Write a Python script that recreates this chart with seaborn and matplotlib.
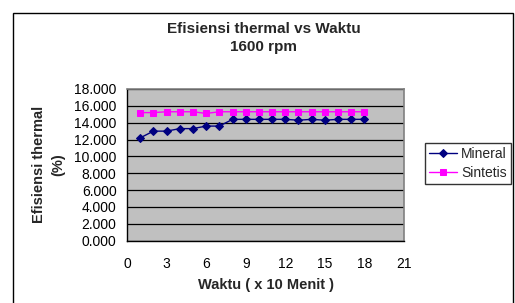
import matplotlib
matplotlib.use("Agg")
import matplotlib.pyplot as plt
from matplotlib.patches import Rectangle
from matplotlib.ticker import FormatStrFormatter
import numpy as np
import pandas as pd
import seaborn as sns

# data
waktu = list(range(1, 19))
mineral = [12.2, 13.0, 13.0, 13.3, 13.3, 13.6, 13.6, 14.4, 14.4,
           14.4, 14.4, 14.4, 14.3, 14.4, 14.3, 14.4, 14.4, 14.4]
sintetis = [15.2, 15.2, 15.3, 15.3, 15.3, 15.1, 15.3, 15.3, 15.3,
            15.3, 15.3, 15.3, 15.3, 15.3, 15.3, 15.3, 15.3, 15.3]
x_ticks = list(range(0, 22, 3))
y_ticks = list(range(0, 19, 2))

sns.set_style("white")
plt.rcParams['font.family'] = ['Liberation Sans', 'DejaVu Sans']

fig = plt.figure(figsize=(5.15, 3.03), dpi=100)
ax = fig.add_axes([127 / 515, 1 - 240.7 / 303, 277 / 515, 151.7 / 303])
ax.set_facecolor("#C0C0C0")

sns.lineplot(x=waktu, y=mineral, ax=ax, color="#000080", marker="D",
             markersize=4.5, markeredgecolor="#000080", linewidth=1,
             label="Mineral")
sns.lineplot(x=waktu, y=sintetis, ax=ax, color="#FF00FF", marker="s",
             markersize=5, markeredgecolor="#FF00FF", linewidth=1,
             label="Sintetis")

ax.set_xlim(0, 21)
ax.set_ylim(0, 18)
ax.set_xticks(x_ticks)
ax.set_yticks(y_ticks)
ax.yaxis.set_major_formatter(FormatStrFormatter("%.3f"))
ax.grid(axis="y", color="black", linewidth=0.9)
ax.grid(axis="x", visible=False)
ax.set_axisbelow(True)

for side in ["top", "right"]:
    ax.spines[side].set_color("#808080")
    ax.spines[side].set_linewidth(1.2)
for side in ["left", "bottom"]:
    ax.spines[side].set_color("black")
    ax.spines[side].set_linewidth(1)

ax.tick_params(axis="both", direction="out", length=3.5, width=0.9,
               colors="black", labelsize=10)
ax.tick_params(axis="x", pad=8)
ax.tick_params(axis="y", pad=4)

ax.set_xlabel("Waktu ( x 10 Menit )", fontsize=10.5, fontweight="bold", labelpad=5)
ax.set_ylabel("Efisiensi thermal\n(%)", fontsize=10.5, fontweight="bold",
              labelpad=6, linespacing=1.5)

fig.text(264 / 515, 1 - 38 / 303, "Efisiensi thermal vs Waktu\n1600 rpm",
         ha="center", va="center", fontsize=11, fontweight="bold",
         linespacing=1.3)

leg = ax.legend(loc="upper left", bbox_to_anchor=(425 / 515, 1 - 143 / 303),
                bbox_transform=fig.transFigure, frameon=True, fancybox=False,
                fontsize=10, handlelength=2.0, handletextpad=0.3,
                borderpad=0.3, labelspacing=0.35, borderaxespad=0)
leg.get_frame().set_edgecolor("black")
leg.get_frame().set_linewidth(1)
leg.get_frame().set_facecolor("white")

# outer chart frame (open at the bottom)
fig.patches.append(Rectangle((13 / 515, -0.1), 500 / 515, 1 - 13 / 303 + 0.1,
                             transform=fig.transFigure, fill=False,
                             edgecolor="black", linewidth=1))

fig.savefig("out.png", dpi=100)
